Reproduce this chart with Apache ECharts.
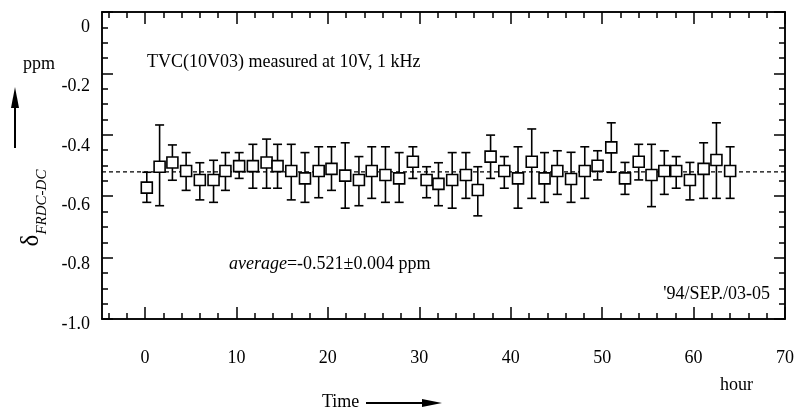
<!DOCTYPE html>
<html><head><meta charset="utf-8">
<script src="https://cdn.jsdelivr.net/npm/echarts@6/dist/echarts.min.js"></script>
<style>html,body{margin:0;padding:0;background:#fff}#c{width:800px;height:414px}</style>
</head><body><div id="c"></div>
<script>
// ---- data ----
const hours = [0.2,1.6,3.0,4.5,6.0,7.5,8.8,10.3,11.8,13.3,14.5,16.0,17.5,19.0,20.4,21.9,23.4,24.8,26.3,27.8,29.3,30.8,32.1,33.6,35.1,36.4,37.8,39.3,40.8,42.3,43.7,45.1,46.6,48.1,49.5,51.0,52.5,54.0,55.4,56.8,58.1,59.6,61.1,62.5,64.0];
const values = [-0.572,-0.504,-0.490,-0.518,-0.547,-0.547,-0.518,-0.502,-0.502,-0.490,-0.502,-0.518,-0.542,-0.518,-0.511,-0.533,-0.547,-0.518,-0.531,-0.542,-0.488,-0.547,-0.560,-0.547,-0.531,-0.580,-0.471,-0.518,-0.542,-0.488,-0.542,-0.518,-0.544,-0.518,-0.501,-0.441,-0.542,-0.488,-0.531,-0.518,-0.518,-0.547,-0.511,-0.482,-0.518];
const upper = [-0.522,-0.368,-0.433,-0.458,-0.491,-0.483,-0.458,-0.458,-0.431,-0.414,-0.431,-0.431,-0.458,-0.439,-0.439,-0.426,-0.471,-0.439,-0.439,-0.458,-0.439,-0.504,-0.491,-0.458,-0.458,-0.504,-0.401,-0.471,-0.439,-0.381,-0.458,-0.452,-0.457,-0.439,-0.452,-0.361,-0.490,-0.431,-0.431,-0.452,-0.471,-0.490,-0.426,-0.361,-0.439];
const lower = [-0.620,-0.631,-0.548,-0.581,-0.612,-0.620,-0.581,-0.542,-0.574,-0.574,-0.574,-0.612,-0.620,-0.605,-0.581,-0.639,-0.631,-0.607,-0.620,-0.620,-0.542,-0.605,-0.631,-0.639,-0.607,-0.664,-0.542,-0.574,-0.639,-0.607,-0.620,-0.594,-0.620,-0.607,-0.547,-0.522,-0.594,-0.547,-0.634,-0.594,-0.574,-0.612,-0.607,-0.607,-0.607];
const average = -0.521;
const xMajorTicks = [0,10,20,30,40,50,60,70];
const xMinorTicks = [-4,-2,2,4,6,8,12,14,16,18,22,24,26,28,32,34,36,38,42,44,46,48,52,54,56,58,62,64,66,68];
const yMajorTicks = [0,-0.2,-0.4,-0.6,-0.8,-1.0];
const yMinorTicks = [-0.05,-0.1,-0.15,-0.25,-0.3,-0.35,-0.45,-0.5,-0.55,-0.65,-0.7,-0.75,-0.85,-0.9,-0.95];
const xMin = -4.7, xMax = 70;

// ---- chart ----
const FONT = '"Liberation Serif", "DejaVu Serif", serif';
const black = '#000';
const lineW = 1.5;
const chart = echarts.init(document.getElementById('c'), null, {renderer: 'canvas'});

function xAx(pos, ticks, len, showLabel, gridIndex) {
  return {
    type: 'value', gridIndex: gridIndex || 0, position: pos, min: xMin, max: xMax,
    axisLine: {show: true, onZero: false, lineStyle: {color: black, width: lineW}},
    axisTick: {show: true, inside: true, length: len, customValues: ticks, lineStyle: {color: black, width: lineW}},
    axisLabel: showLabel ? {show: true, customValues: ticks, margin: 30, color: black, fontFamily: FONT, fontSize: 18} : {show: false},
    splitLine: {show: false}
  };
}
function yAx(pos, ticks, len) {
  return {
    type: 'value', gridIndex: 0, position: pos, min: -1, max: 0,
    axisLine: {show: true, onZero: false, lineStyle: {color: black, width: lineW}},
    axisTick: {show: true, inside: true, length: len, customValues: ticks, lineStyle: {color: black, width: lineW}},
    axisLabel: {show: false},
    splitLine: {show: false}
  };
}

const errData = hours.map((h, i) => [h, lower[i], upper[i]]);
const ptData = hours.map((h, i) => [h, values[i]]);

chart.setOption({
  animation: false,
  backgroundColor: '#fff',
  grid: [
    {left: 102, right: 15, top: 12, bottom: 95},
    {left: 102, right: 15, top: 27, bottom: 90}
  ],
  xAxis: [
    xAx('bottom', xMajorTicks, 12, true),
    xAx('bottom', xMinorTicks, 6, false),
    xAx('top', xMajorTicks, 12, false),
    xAx('top', xMinorTicks, 6, false),
    {type: 'value', gridIndex: 1, min: xMin, max: xMax, show: false}
  ],
  yAxis: [
    yAx('left', yMajorTicks, 11),
    yAx('left', yMinorTicks, 6),
    yAx('right', yMajorTicks, 11),
    yAx('right', yMinorTicks, 6),
    {
      type: 'value', gridIndex: 1, position: 'left', min: -1, max: 0, interval: 0.2,
      axisLine: {show: false}, axisTick: {show: false}, splitLine: {show: false},
      axisLabel: {show: true, margin: 12, color: black, fontFamily: FONT, fontSize: 18,
        formatter: v => (Math.abs(v) < 1e-9 ? '0' : v.toFixed(1))}
    }
  ],
  series: [
    {
      type: 'line', xAxisIndex: 0, yAxisIndex: 0, symbol: 'none', silent: true, z: 1,
      data: [[xMin, average], [xMax, average]],
      lineStyle: {color: black, width: 1.2, type: [4, 3]}
    },
    {
      type: 'custom', xAxisIndex: 0, yAxisIndex: 0, z: 2,
      data: errData,
      encode: {x: 0, y: [1, 2]},
      renderItem: function (params, api) {
        const x = api.value(0);
        const pLo = api.coord([x, api.value(1)]);
        const pHi = api.coord([x, api.value(2)]);
        const hw = 4.5;
        const st = {stroke: black, lineWidth: 1.6};
        return {type: 'group', children: [
          {type: 'line', shape: {x1: pLo[0], y1: pLo[1], x2: pHi[0], y2: pHi[1]}, style: st},
          {type: 'line', shape: {x1: pLo[0] - hw, y1: pLo[1], x2: pLo[0] + hw, y2: pLo[1]}, style: st},
          {type: 'line', shape: {x1: pHi[0] - hw, y1: pHi[1], x2: pHi[0] + hw, y2: pHi[1]}, style: st}
        ]};
      }
    },
    {
      type: 'scatter', xAxisIndex: 0, yAxisIndex: 0, z: 3,
      data: ptData, symbol: 'rect', symbolSize: 11,
      itemStyle: {color: '#fff', borderColor: black, borderWidth: 1.6, opacity: 1}
    }
  ],
  graphic: [
    {type: 'text', left: 147, top: 53, style: {text: 'TVC(10V03) measured at 10V, 1 kHz', font: '18px ' + FONT, fill: black}},
    {type: 'text', left: 23, top: 55, style: {text: 'ppm', font: '18px ' + FONT, fill: black}},
    {type: 'text', left: 229, top: 255, style: {
      text: '{i|average}=-0.521±0.004 ppm', font: '18px ' + FONT, fill: black,
      rich: {i: {fontStyle: 'italic', fontFamily: FONT, fontSize: 18}}}},
    {type: 'text', right: 30, top: 285, style: {text: "'94/SEP./03-05", font: '18px ' + FONT, fill: black}},
    {type: 'text', left: 720, top: 376, style: {text: 'hour', font: '18px ' + FONT, fill: black}},
    {type: 'text', left: 322, top: 393, style: {text: 'Time', font: '18px ' + FONT, fill: black}},
    {type: 'line', shape: {x1: 366, y1: 403, x2: 425, y2: 403}, style: {stroke: black, lineWidth: 2}},
    {type: 'polygon', shape: {points: [[442, 403], [422, 399], [422, 407]]}, style: {fill: black}},
    {type: 'line', shape: {x1: 15, y1: 148, x2: 15, y2: 104}, style: {stroke: black, lineWidth: 2}},
    {type: 'polygon', shape: {points: [[15, 87], [11, 108], [19, 108]]}, style: {fill: black}},
    {type: 'text', x: 31, y: 208, rotation: Math.PI / 2, style: {
      text: '{d|δ}{s|FRDC-DC}', fill: black, align: 'center', verticalAlign: 'middle',
      rich: {
        d: {fontFamily: FONT, fontSize: 25, fill: black, verticalAlign: 'bottom'},
        s: {fontFamily: FONT, fontStyle: 'italic', fontSize: 15, fill: black, verticalAlign: 'bottom', padding: [0, 0, -6, 0]}
      }}}
  ]
});
</script>
</body></html>
